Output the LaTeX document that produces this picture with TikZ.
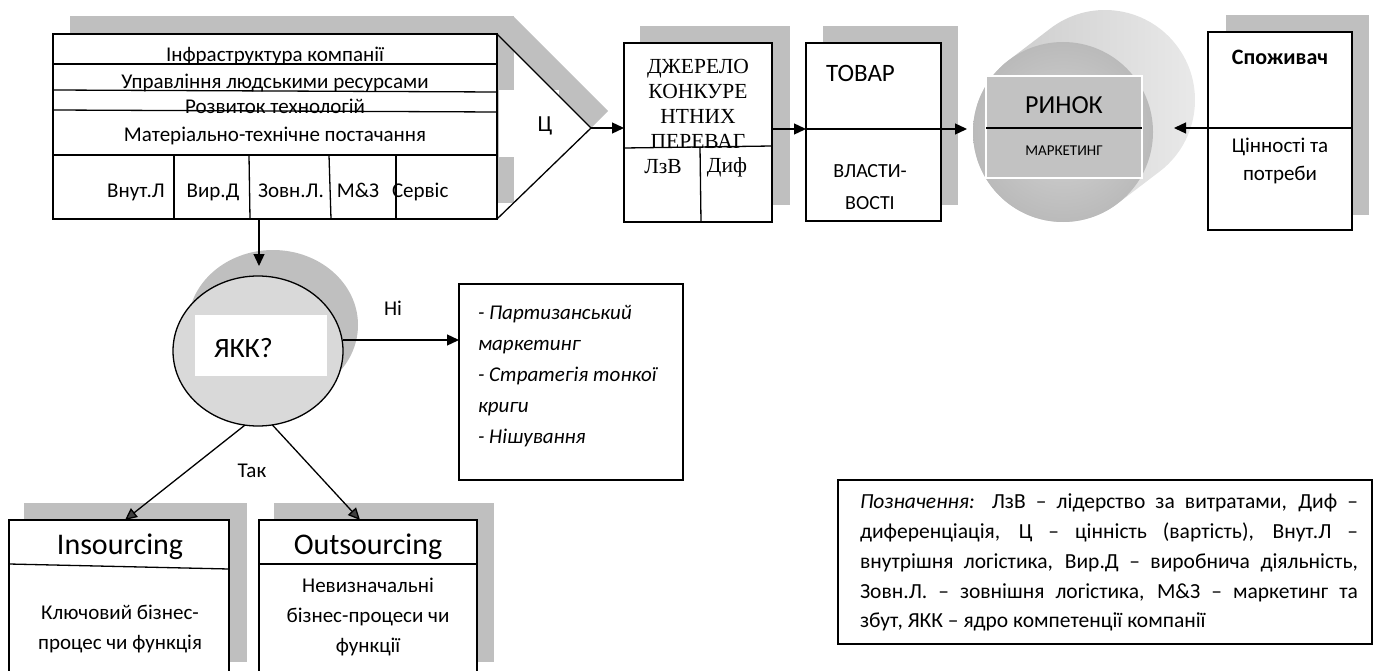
\documentclass[tikz,border=0pt]{standalone}
\usepackage{fontspec}
\setmainfont{Carlito}
\newfontfamily\tnr{Liberation Serif}
\usetikzlibrary{arrows.meta,calc,shapes.geometric}
\definecolor{shd}{HTML}{BFBFBF}
\definecolor{ykkc}{HTML}{D9D9D9}
\definecolor{mktin}{HTML}{C2C2C2}
\begin{document}
\begin{tikzpicture}[x=1pt,y=-1pt,line width=1.3pt,
  every node/.style={inner sep=0pt,outer sep=0pt},
  txt/.style={font=\fontsize{21}{25}\selectfont,text height=15pt,text depth=5pt},
  big/.style={font=\fontsize{30}{34}\selectfont,text height=21pt,text depth=7pt},
  serif/.style={font=\tnr\fontsize{21.5}{25}\selectfont},
  boxw/.style={draw,fill=white,anchor=north west},
  arr/.style={-{Triangle[length=12pt,width=11pt]}},
  arrg/.style={-{Triangle[length=12pt,width=11pt,fill=black!75]}},
]
\useasboundingbox (0,0) rectangle (1378,671);

% ---------- value chain ----------
\fill[shd] (70,16) rectangle (514,203);
\fill[shd] (497,34) -- (514,17) -- (608,111) -- (591,128) -- cycle;
\node[boxw,minimum width=444pt,minimum height=185pt] (vc) at (53,34) {};
\node[fill=white,minimum width=60pt,minimum height=67pt] (cbg) at (529,123.5) {};
\coordinate (vctip) at (591,128);
\draw (vc.north east) -- (vctip) -- (vc.south east);
\node[txt,font=\fontsize{23}{26}\selectfont] (cz) at (545,127) {Ц};
\draw (53,64) -- (497,64);
\draw (53,90) -- (497,92);
\draw (53,110) -- (497,112);
\draw (53,155) -- (497,155);
\node[txt] (t1) at (275,57) {Інфраструктура компанії};
\node[txt] (t2) at (275,84) {Управління людськими ресурсами};
\node[txt] (t3) at (275,109) {Розвиток технологій};
\node[txt] (t4) at (275,137) {Матеріально-технічне постачання};
\draw (174,155) -- (174,219);
\draw (249,155) -- (250,219);
\draw (329,155) -- (331,219);
\draw (396,155) -- (396,219);
\node[txt] (c1) at (136,192) {Внут.Л};
\node[txt] (c2) at (213,192) {Вир.Д};
\node[txt] (c3) at (291,192) {Зовн.Л.};
\node[txt] (c4) at (358,192) {М\&З};
\node[txt,anchor=west] (c5) at (392,192) {Сервіс};

% ---------- source of competitive advantage ----------
\fill[shd] (640,26) rectangle (790,205);
\node[boxw,minimum width=148pt,minimum height=179pt] (dzh) at (624,43) {};
\node[serif,align=center] (dzht) at (698,104) {ДЖЕРЕЛО\\КОНКУРЕ\\НТНИХ\\ПЕРЕВАГ};
\draw (624,148) -- (772,146);
\draw (700,147) -- (701,222);
\node[serif] (lzv) at (663,167) {ЛзВ};
\node[serif] (dyf) at (727,167) {Диф};
\draw[arr] (vctip) -- (vctip -| dzh.west);

% ---------- product ----------
\coordinate (yl) at (0,129);
\fill[shd] (823,26) rectangle (958,205);
\node[boxw,minimum width=135pt,minimum height=178pt] (tov) at (806,43) {};
\draw (tov.west |- yl) -- (tov.east |- yl);
\node[font=\fontsize{25}{28}\selectfont,anchor=west] (tovt) at (826,73) {ТОВАР};
\node[font=\fontsize{20}{32}\selectfont,align=center] (vl) at (870,187) {ВЛАСТИ-\\ВОСТІ};
\draw[arr] (dzh.east |- yl) -- (tov.west |- yl);

% ---------- market ----------
\coordinate (cf) at (1063,132);
\coordinate (cb) at (1105,100);
\shade[left color=black!22,right color=black!8]
  (cb) ++(-128.2:90) arc[start angle=-128.2,end angle=51.8,radius=90]
  -- ($(cf)+(51.8:90)$) arc[start angle=51.8,end angle=231.8,radius=90] -- cycle;
\shade[inner color=black!17,outer color=black!27] (cf) circle[radius=90];
\node[draw=white,line width=1.5pt,fill=mktin,minimum width=156pt,minimum height=102pt] (mkt) at (1064,127) {};
\draw (mkt.west |- 0,128) -- (mkt.east |- 0,128);
\node[font=\fontsize{26}{30}\selectfont] (rin) at (1064,105) {РИНОК};
\node[font=\fontsize{15}{18}\selectfont] (mar) at (1064,151) {МАРКЕТИНГ};
\coordinate (mktl) at (967,129);
\coordinate (mktr) at (1174,128);
\draw[arr] (tov.east |- yl) -- (mktl);

% ---------- consumer ----------
\fill[shd] (1226,15) rectangle (1369,215);
\node[boxw,minimum width=144pt,minimum height=198pt] (spo) at (1208,32) {};
\draw (spo.west |- mktr) -- (spo.east |- mktr);
\node[font=\bfseries\fontsize{22}{26}\selectfont] (spot) at (1280,57) {Споживач};
\node[align=center,font=\fontsize{21}{28}\selectfont] (cin) at (1280,161) {Цінності та\\потреби};
\draw[arr] (spo.west |- mktr) -- (mktr);

% ---------- core competence ----------
\fill[shd] (273,325) ellipse[x radius=85,y radius=75];
\node[draw,ellipse,fill=ykkc,minimum width=170pt,minimum height=150pt] (ykk) at (258,351) {};
\node[fill=white,minimum width=132pt,minimum height=61pt] (ykkr) at (261,345.5) {};
\node[font=\fontsize{28}{32}\selectfont,anchor=west] (ykkt) at (214,348) {ЯКК?};
\coordinate (ykktop) at (259,266);
\draw[arr] (ykktop |- vc.south) -- (ykktop);

% ---------- No branch ----------
\coordinate (ya) at (0,340);
\node[boxw,minimum width=224pt,minimum height=196pt] (ni) at (459,284) {};
\node[txt] (nil) at (393,310) {Ні};
\draw[arr] (ykk.east |- ya) -- (ni.west |- ya);
\node[anchor=north west,align=left,font=\itshape\fontsize{21}{31}\selectfont] (nit) at (478,305)
  {- Партизанський\\маркетинг\\- Стратегія тонкої\\криги\\- Нішування};

% ---------- Yes branch ----------
\fill[shd] (24,503) rectangle (247,662);
\fill[shd] (274,503) rectangle (494,662);
\node[boxw,minimum width=220pt,minimum height=180pt] (ins) at (9,520) {};
\node[boxw,minimum width=218pt,minimum height=180pt] (out) at (259,520) {};
\draw (9,564) -- (229,569);
\draw (259,564) -- (477,564);
\node[big] (inst) at (120,547) {Insourcing};
\node[big] (outt) at (368,547) {Outsourcing};
\node[align=center,font=\fontsize{21}{30}\selectfont] (inss) at (120,629) {Ключовий бізнес-\\процес чи функція};
\node[align=center,font=\fontsize{21}{30}\selectfont] (outs) at (368,617) {Невизначальні\\бізнес-процеси чи\\функції};
\node[txt] (tak) at (252,472) {Так};
\draw[arrg] (ykk.260) -- ($(ins.north)+(6,0)$);
\draw[arrg] (ykk.281) -- ($(out.north)+(-8,0)$);

% ---------- legend ----------
\node[boxw,minimum width=534pt,minimum height=164pt] (leg) at (838,480) {};
\node[anchor=north west,text width=498pt,align=justify,font=\fontsize{21.5}{29.8}\selectfont] (legt) at (860,494)
  {\textit{Позначення:} ЛзВ – лідерство за витратами, Диф –\linebreak
   диференціація, Ц – цінність (вартість), Внут.Л –\linebreak
   внутрішня логістика, Вир.Д – виробнича діяльність,\linebreak
   Зовн.Л. – зовнішня логістика, М\&З – маркетинг та\linebreak
   збут, ЯКК – ядро компетенції компанії};
\end{tikzpicture}
\end{document}
